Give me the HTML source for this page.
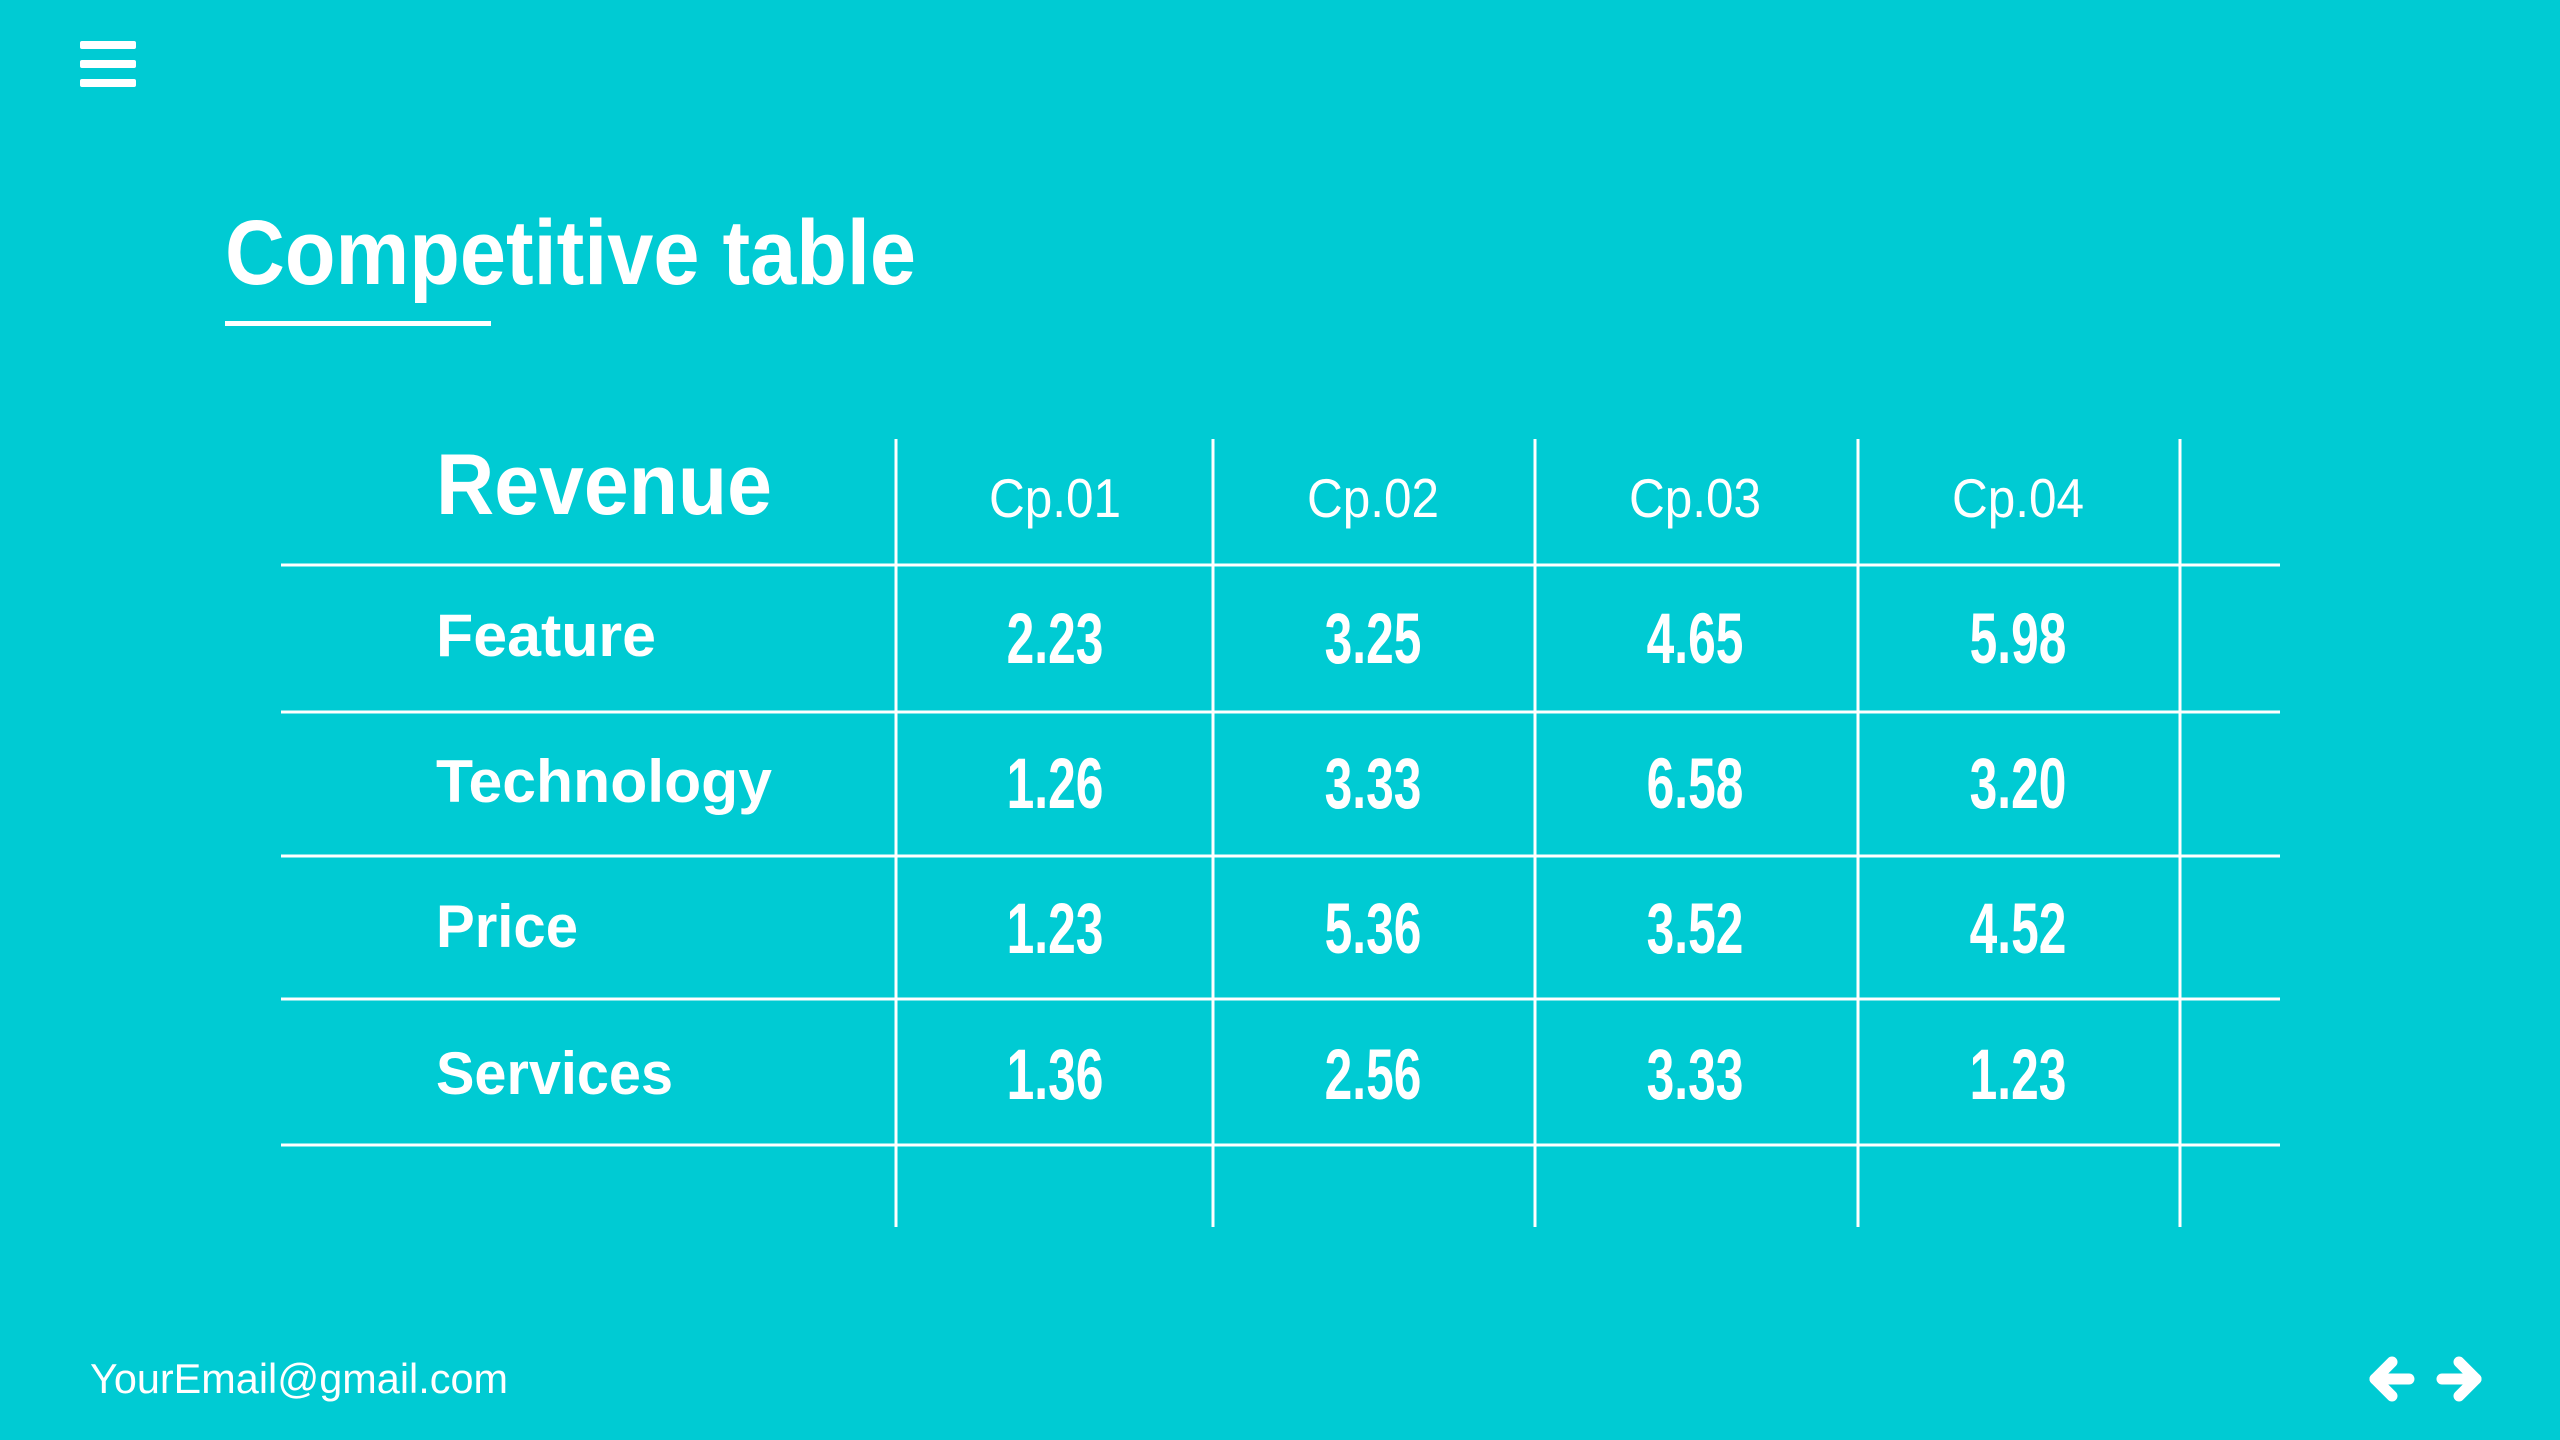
<!DOCTYPE html>
<html><head><meta charset="utf-8"><style>
html,body{margin:0;padding:0;background:#00CBD3;}
svg{display:block}
text{fill:#fff;font-family:"Liberation Sans",sans-serif}
</style></head><body>
<svg width="2560" height="1440" viewBox="0 0 2560 1440" xmlns="http://www.w3.org/2000/svg">
<rect width="2560" height="1440" fill="#00CBD3"/>
<rect x="80" y="41" width="56" height="8" rx="2" fill="#fff"/>
<rect x="80" y="60" width="56" height="8" rx="2" fill="#fff"/>
<rect x="80" y="79" width="56" height="8" rx="2" fill="#fff"/>
<text x="225" y="284" font-size="92" font-weight="bold" textLength="691" lengthAdjust="spacingAndGlyphs">Competitive table</text>
<rect x="225" y="321" width="266" height="5" fill="#fff"/>
<g stroke="#fff" stroke-width="3">
<line x1="281" y1="565" x2="2280" y2="565"/>
<line x1="281" y1="712" x2="2280" y2="712"/>
<line x1="281" y1="856" x2="2280" y2="856"/>
<line x1="281" y1="999" x2="2280" y2="999"/>
<line x1="281" y1="1145" x2="2280" y2="1145"/>
<line x1="896" y1="439" x2="896" y2="1227"/>
<line x1="1213" y1="439" x2="1213" y2="1227"/>
<line x1="1535" y1="439" x2="1535" y2="1227"/>
<line x1="1858" y1="439" x2="1858" y2="1227"/>
<line x1="2180" y1="439" x2="2180" y2="1227"/>
</g>
<text x="436" y="514" font-size="86" font-weight="bold" textLength="336" lengthAdjust="spacingAndGlyphs">Revenue</text>
<g font-size="55" text-anchor="middle">
<text transform="translate(1055,517) scale(0.9,1)">Cp.01</text>
<text transform="translate(1373,517) scale(0.9,1)">Cp.02</text>
<text transform="translate(1695,517) scale(0.9,1)">Cp.03</text>
<text transform="translate(2018,517) scale(0.9,1)">Cp.04</text>
</g>
<g font-size="60" font-weight="bold">
<text x="436" y="656" textLength="220" lengthAdjust="spacingAndGlyphs">Feature</text>
<text x="436" y="802" textLength="336" lengthAdjust="spacingAndGlyphs">Technology</text>
<text x="436" y="947" textLength="142" lengthAdjust="spacingAndGlyphs">Price</text>
<text x="436" y="1094" textLength="237" lengthAdjust="spacingAndGlyphs">Services</text>
</g>
<g font-size="71" text-anchor="middle" font-weight="bold">
<text transform="translate(1055,663) scale(0.7,1)">2.23</text>
<text transform="translate(1373,663) scale(0.7,1)">3.25</text>
<text transform="translate(1695,663) scale(0.7,1)">4.65</text>
<text transform="translate(2018,663) scale(0.7,1)">5.98</text>
<text transform="translate(1055,808) scale(0.7,1)">1.26</text>
<text transform="translate(1373,808) scale(0.7,1)">3.33</text>
<text transform="translate(1695,808) scale(0.7,1)">6.58</text>
<text transform="translate(2018,808) scale(0.7,1)">3.20</text>
<text transform="translate(1055,953) scale(0.7,1)">1.23</text>
<text transform="translate(1373,953) scale(0.7,1)">5.36</text>
<text transform="translate(1695,953) scale(0.7,1)">3.52</text>
<text transform="translate(2018,953) scale(0.7,1)">4.52</text>
<text transform="translate(1055,1099) scale(0.7,1)">1.36</text>
<text transform="translate(1373,1099) scale(0.7,1)">2.56</text>
<text transform="translate(1695,1099) scale(0.7,1)">3.33</text>
<text transform="translate(2018,1099) scale(0.7,1)">1.23</text>
</g>
<text x="90" y="1393" font-size="42" textLength="418" lengthAdjust="spacingAndGlyphs">YourEmail@gmail.com</text>
<g stroke="#fff" stroke-width="11" stroke-linecap="round" stroke-linejoin="round" fill="none">
<polyline points="2392,1362 2375,1379 2392,1396"/>
<line x1="2375" y1="1379" x2="2409" y2="1379"/>
<polyline points="2459,1362 2476,1379 2459,1396"/>
<line x1="2442" y1="1379" x2="2476" y2="1379"/>
</g>
</svg>
</body></html>
